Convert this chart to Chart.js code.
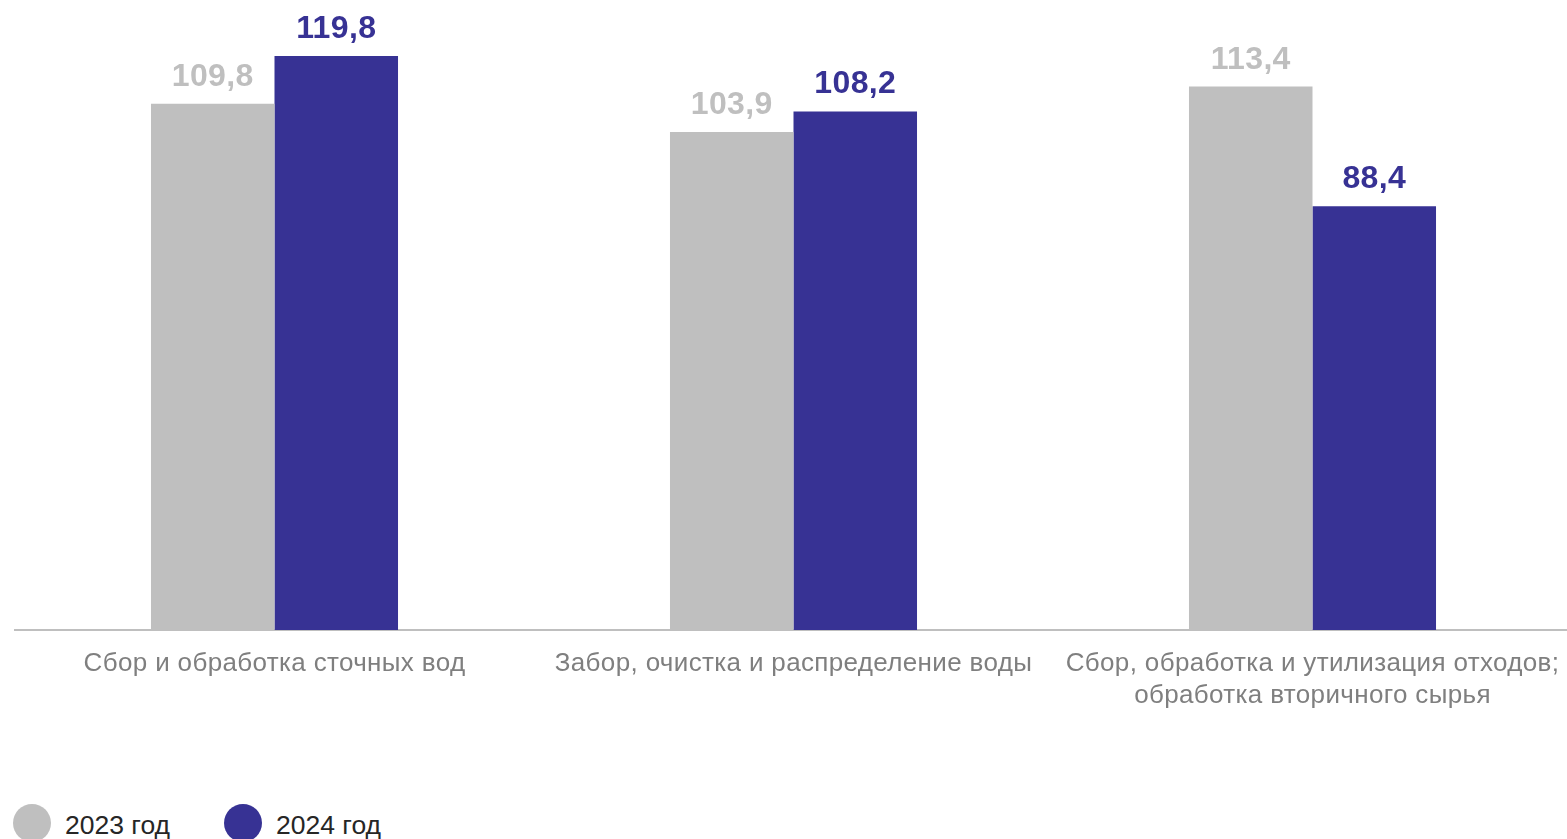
<!DOCTYPE html>
<html>
<head>
<meta charset="utf-8">
<script src="https://cdn.jsdelivr.net/npm/chart.js@4/dist/chart.umd.min.js"></script>
<style>
  html, body { margin: 0; padding: 0; background: #fff; overflow: hidden; }
  body { width: 1567px; height: 839px; position: relative; }
  #wrap { position: absolute; left: 0; top: 0; width: 1572px; height: 750px; }
  #legend { position: absolute; left: 13px; top: 804px; display: flex; font-family: "Liberation Sans", Arial, sans-serif; font-size: 26.5px; color: #262626; }
  .item { display: flex; align-items: center; margin-right: 54px; }
  .item span:last-child { padding-top: 5px; }
  .dot { width: 38px; height: 38px; border-radius: 50%; margin-right: 14px; }
</style>
</head>
<body>
<div id="wrap"><canvas id="my-chart"></canvas></div>
<div id="legend"></div>
<script>
const categories = [
  "Сбор и обработка сточных вод",
  "Забор, очистка и распределение воды",
  ["Сбор, обработка и утилизация отходов;", "обработка вторичного сырья"]
];
const seriesNames = ["2023 год", "2024 год"];
const values2023 = [109.8, 103.9, 113.4];
const values2024 = [119.8, 108.2, 88.4];
const seriesColors = ["#bfbfbf", "#373294"];

const valueLabelsPlugin = {
  id: 'valueLabels',
  afterDatasetsDraw(chart) {
    const ctx = chart.ctx;
    chart.data.datasets.forEach((ds, i) => {
      const meta = chart.getDatasetMeta(i);
      meta.data.forEach((bar, index) => {
        ctx.save();
        ctx.font = 'bold 32px "Liberation Sans", Arial, sans-serif';
        ctx.fillStyle = ds.backgroundColor;
        ctx.textAlign = 'center';
        ctx.textBaseline = 'alphabetic';
        ctx.fillText(ds.data[index].toFixed(1).replace('.', ','), bar.x, bar.y - 18);
        ctx.restore();
      });
    });
  }
};

const tickSpacingPlugin = {
  id: 'tickSpacing',
  beforeDraw(chart) {
    chart.ctx.letterSpacing = '0.35px';
  }
};

document.addEventListener("DOMContentLoaded", () => {
  const chartCanvas = document.getElementById("my-chart");

  const datasets = [values2023, values2024].map((vals, i) => ({
    label: seriesNames[i],
    data: vals,
    backgroundColor: seriesColors[i],
    borderWidth: 0,
    barPercentage: 1,
    categoryPercentage: 0.476
  }));

  new Chart(chartCanvas, {
    type: 'bar',
    data: { labels: categories, datasets: datasets },
    options: {
      responsive: true,
      maintainAspectRatio: false,
      animation: false,
      layout: { padding: { left: 15, right: 0, top: 7, bottom: 20 } },
      plugins: {
        legend: { display: false },
        tooltip: { enabled: false }
      },
      scales: {
        x: {
          grid: { display: false, drawTicks: false },
          border: { display: true, color: '#bfbfbf', width: 2 },
          ticks: {
            color: '#7f7f7f',
            padding: 18,
            maxRotation: 0,
            autoSkip: false,
            font: { family: '"Liberation Sans", Arial, sans-serif', size: 26, lineHeight: 1.23 }
          }
        },
        y: {
          display: false,
          beginAtZero: true,
          min: 0,
          max: 130
        }
      }
    },
    plugins: [tickSpacingPlugin, valueLabelsPlugin]
  });

  const legend = document.getElementById("legend");
  seriesNames.forEach((name, i) => {
    const item = document.createElement("div");
    item.className = "item";
    const dot = document.createElement("span");
    dot.className = "dot";
    dot.style.background = seriesColors[i];
    const txt = document.createElement("span");
    txt.textContent = name;
    item.appendChild(dot);
    item.appendChild(txt);
    legend.appendChild(item);
  });
});
</script>
</body>
</html>
